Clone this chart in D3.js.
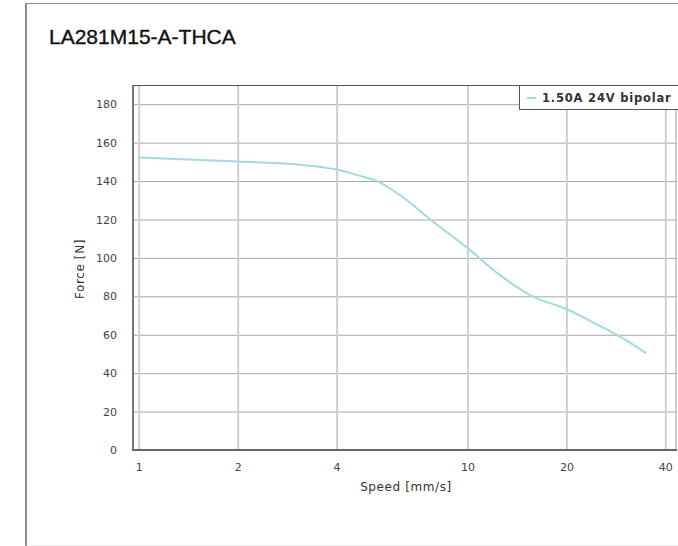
<!DOCTYPE html>
<html>
<head>
<meta charset="utf-8">
<script src="https://cdn.jsdelivr.net/npm/d3@7"></script>
<style>
  html, body { margin: 0; padding: 0; background: #fff; }
  svg { display: block; }
  text { font-family: "DejaVu Sans", sans-serif; }
</style>
</head>
<body>
<script>
const title = "LA281M15-A-THCA";
const seriesName = "1.50A 24V bipolar";
const speeds = [1, 2, 3, 4, 4.8, 5.3, 6.4, 7.7, 8.45, 10, 12.5, 15.8, 20, 24.9, 28.4, 35];
const forces = [152.3, 150.2, 148.7, 146, 142.3, 140, 131.3, 120, 114.8, 105.2, 91.3, 80, 73.4, 65.2, 60, 50.4];
const xTicks = [1, 2, 4, 10, 20, 40];
const yTicks = [0, 20, 40, 60, 80, 100, 120, 140, 160, 180];
const xLabel = "Speed [mm/s]";
const yLabel = "Force [N]";

const W = 678, H = 546;
const plot = { left: 133, right: 677, top: 85, bottom: 450 };

const svg = d3.select("body").append("svg").attr("width", W).attr("height", H);

// outer frame
svg.append("line").attr("x1", 26).attr("x2", 26).attr("y1", 3).attr("y2", 546)
  .attr("stroke", "#8c8c8c").attr("stroke-width", 2);
svg.append("line").attr("x1", 25).attr("x2", W).attr("y1", 3.5).attr("y2", 3.5)
  .attr("stroke", "#8c8c8c").attr("stroke-width", 1);
svg.append("line").attr("x1", 27).attr("x2", W).attr("y1", 545.5).attr("y2", 545.5)
  .attr("stroke", "#eeeeee").attr("stroke-width", 1);

// title
svg.append("text").attr("x", 49).attr("y", 44)
  .style("font-family", "'Liberation Sans', Arial, sans-serif")
  .style("font-size", "21px").style("font-weight", "normal")
  .attr("fill", "#111").attr("stroke", "#111").attr("stroke-width", 0.35)
  .text(title);

const x = d3.scaleLog().domain([0.961, 43.4]).range([plot.left, plot.right]);
const y = d3.scaleLinear().domain([0, 190]).range([plot.bottom, plot.top]);

// horizontal gridlines
svg.append("g").attr("class", "ygrid")
  .attr("transform", `translate(${plot.left},0)`)
  .call(d3.axisLeft(y).tickValues(yTicks).tickSize(-(plot.right - plot.left)).tickFormat(""))
  .call(g => g.select(".domain").remove())
  .call(g => g.selectAll("line").attr("stroke", "#a6a6a6").attr("stroke-width", 1));

// vertical gridlines
svg.append("g").attr("class", "xgrid")
  .attr("transform", `translate(0,${plot.bottom})`)
  .call(d3.axisBottom(x).tickValues(xTicks).tickSize(-(plot.bottom - plot.top)).tickFormat(""))
  .call(g => g.select(".domain").remove())
  .call(g => g.selectAll("line").attr("stroke", "#cfcfcf").attr("stroke-width", 2));

// plot border
svg.append("line").attr("x1", plot.left).attr("x2", plot.right).attr("y1", plot.top + 0.5).attr("y2", plot.top + 0.5)
  .attr("stroke", "#555").attr("stroke-width", 1);
svg.append("line").attr("x1", plot.right - 1).attr("x2", plot.right - 1).attr("y1", plot.top).attr("y2", plot.bottom)
  .attr("stroke", "#bbb").attr("stroke-width", 1.5);
svg.append("line").attr("x1", plot.left).attr("x2", plot.left).attr("y1", plot.top).attr("y2", plot.bottom + 1)
  .attr("stroke", "#777").attr("stroke-width", 2);
svg.append("line").attr("x1", plot.left - 1).attr("x2", plot.right).attr("y1", plot.bottom).attr("y2", plot.bottom)
  .attr("stroke", "#666").attr("stroke-width", 2);

// y tick labels
svg.append("g").attr("transform", `translate(${plot.left},0)`)
  .call(d3.axisLeft(y).tickValues(yTicks).tickSize(0).tickPadding(16))
  .call(g => g.select(".domain").remove())
  .call(g => g.selectAll("text").attr("fill", "#444").style("font-size", "11px")
    .style("font-family", "'DejaVu Sans', sans-serif"));

// x tick labels
svg.append("g").attr("transform", `translate(0,${plot.bottom})`)
  .call(d3.axisBottom(x).tickValues(xTicks).tickSize(0).tickPadding(13).tickFormat(d3.format("d")))
  .call(g => g.select(".domain").remove())
  .call(g => g.selectAll("text").attr("fill", "#444").style("font-size", "11px")
    .style("font-family", "'DejaVu Sans', sans-serif"));

// axis titles
svg.append("text").attr("x", 406).attr("y", 491).attr("text-anchor", "middle")
  .attr("fill", "#333").style("font-size", "12px").style("letter-spacing", "0.6px").text(xLabel);
svg.append("text").attr("transform", "translate(84,269) rotate(-90)").attr("text-anchor", "middle")
  .attr("fill", "#333").style("font-size", "12px").style("letter-spacing", "0.6px").text(yLabel);

// series line
const data = speeds.map((s, i) => ({ s, f: forces[i] }));
svg.append("path").datum(data)
  .attr("fill", "none").attr("stroke", "#a3d9e2").attr("stroke-width", 2)
  .attr("d", d3.line().x(d => x(d.s)).y(d => y(d.f)).curve(d3.curveMonotoneX));

// legend
const lg = svg.append("g");
lg.append("rect").attr("x", 519.5).attr("y", 85.5).attr("width", 160).attr("height", 24)
  .attr("fill", "#fff").attr("stroke", "#555").attr("stroke-width", 1);
lg.append("line").attr("x1", 527).attr("x2", 536).attr("y1", 98).attr("y2", 98)
  .attr("stroke", "#a3d9e2").attr("stroke-width", 2);
lg.append("text").attr("x", 542).attr("y", 102).attr("fill", "#333")
  .style("font-size", "11.5px").style("font-weight", "bold").style("letter-spacing", "0.8px")
  .text(seriesName);
</script>
</body>
</html>
